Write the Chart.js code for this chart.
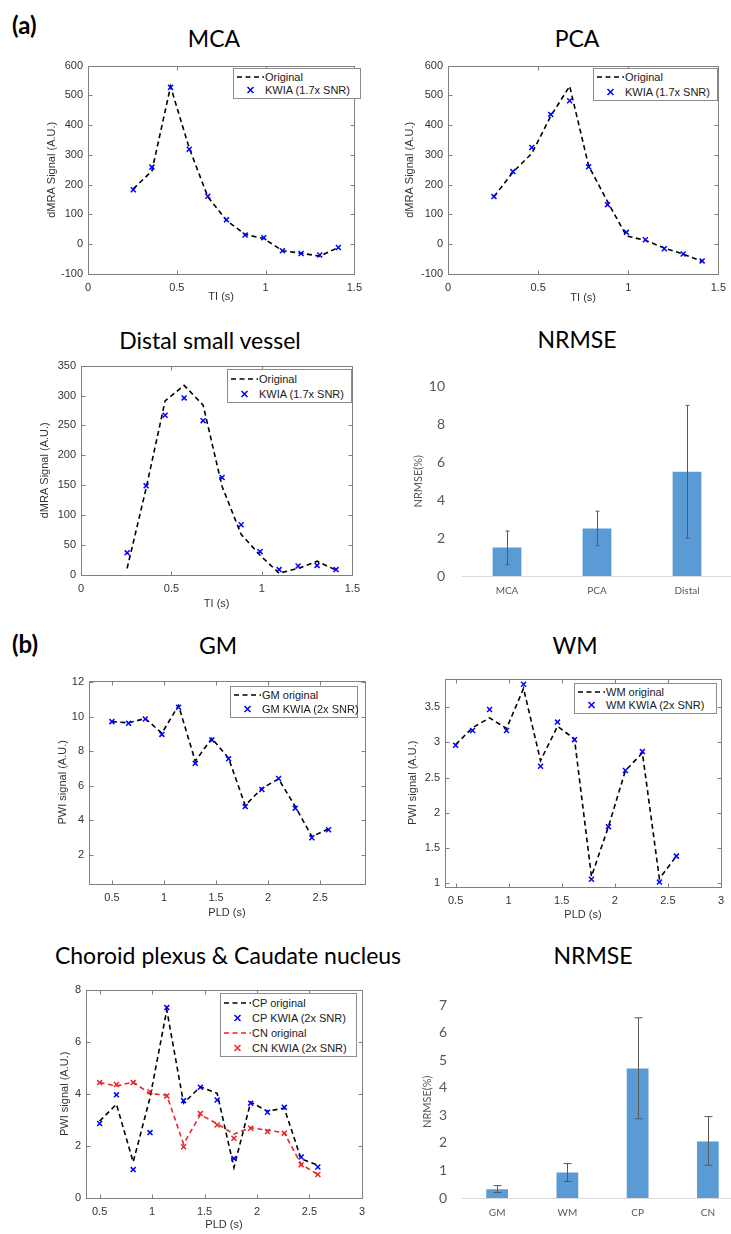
<!DOCTYPE html>
<html>
<head>
<meta charset="utf-8">
<title>KWIA dMRA / PWI comparison</title>
<script src="https://cdn.jsdelivr.net/npm/chart.js@4.4.0/dist/chart.umd.min.js"></script>
<style>
  html, body { margin: 0; padding: 0; background: #fff; }
  #page { position: relative; width: 731px; height: 1234px; overflow: hidden; background: #fff;
          font-family: 'Liberation Sans', Arial, sans-serif; }
  .ptitle { position: absolute; transform: translate(-50%, -50%); white-space: nowrap;
            font-family: Lato, 'Open Sans', sans-serif; font-size: 23px; color: #000; }
  .tag { position: absolute; transform: translateY(-50%); font-family: Lato, sans-serif;
         font-weight: bold; font-size: 24px; color: #000; }
  canvas.abs { position: absolute; }
  .legend { position: absolute; box-sizing: border-box; border: 1px solid #8c8c8c; background: #fff;
            font-size: 11px; color: #1a1a1a; padding: 1px 2px 1px 2px;
            display: flex; flex-direction: column; justify-content: center; }
  .legend .row { display: flex; align-items: center; height: 15px; white-space: nowrap; }
  .legend svg { flex: none; margin-right: 1px; }
</style>
</head>
<body>
<div id="page">
  <div class="tag" style="left:12px;top:24px">(a)</div>
  <div class="tag" style="left:12px;top:643px">(b)</div>

  <div class="ptitle" style="left:214px;top:38px">MCA</div>
  <div class="ptitle" style="left:577px;top:38px">PCA</div>
  <div class="ptitle" style="left:210px;top:340px">Distal small vessel</div>
  <div class="ptitle" style="left:577px;top:339px">NRMSE</div>
  <div class="ptitle" style="left:218px;top:645px">GM</div>
  <div class="ptitle" style="left:575px;top:645px">WM</div>
  <div class="ptitle" style="left:228px;top:955px">Choroid plexus &amp; Caudate nucleus</div>
  <div class="ptitle" style="left:593px;top:955px">NRMSE</div>
</div>

<script>
// ---- data ----
const TI = [0.255, 0.36, 0.465, 0.57, 0.675, 0.78, 0.885, 0.99, 1.095, 1.2, 1.305, 1.41];
const PLD = [0.5, 0.66, 0.82, 0.98, 1.14, 1.30, 1.46, 1.62, 1.78, 1.94, 2.10, 2.26, 2.42, 2.58];

const mcaOrig = [186, 246, 530, 323, 159, 80, 33, 19, -22, -30, -40, -11];
const mcaKwia = [183, 259, 527, 319, 161, 82, 31, 22, -22, -31, -36, -11];

const pcaOrig = [160, 242, 305, 430, 531, 264, 143, 28, 13, -13, -33, -58];
const pcaKwia = [160, 244, 325, 436, 482, 260, 133, 40, 15, -15, -33, -56];

const distOrig = [11, 145, 291, 317, 284, 148, 68, 33, 3, 11, 23, 8];
const distKwia = [37, 149, 267, 296, 258, 163, 84, 39, 9, 15, 16, 9];

const gmOrig = [9.72, 9.65, 9.9, 9.05, 10.66, 7.43, 8.75, 7.6, 4.85, 5.85, 6.4, 4.8, 3.05, 3.5];
const gmKwia = [9.72, 9.62, 9.87, 8.98, 10.55, 7.3, 8.66, 7.56, 4.79, 5.78, 6.42, 4.7, 2.98, 3.45];

const wmOrig = [2.97, 3.21, 3.35, 3.2, 3.77, 2.74, 3.23, 3.05, 1.09, 1.8, 2.6, 2.85, 1.06, 1.38];
const wmKwia = [2.96, 3.17, 3.47, 3.17, 3.83, 2.66, 3.29, 3.04, 1.05, 1.8, 2.6, 2.87, 1.01, 1.38];

const cpOrig = [2.95, 3.6, 1.38, 3.85, 7.22, 3.64, 4.27, 4.02, 1.17, 3.68, 3.33, 3.45, 1.5, 1.26];
const cpKwia = [2.86, 3.96, 1.09, 2.51, 7.31, 3.74, 4.25, 3.76, 1.52, 3.64, 3.29, 3.48, 1.57, 1.19];
const cnOrig = [4.43, 4.3, 4.45, 4.0, 3.95, 2.07, 3.2, 2.85, 2.45, 2.7, 2.6, 2.5, 1.3, 0.9];
const cnKwia = [4.43, 4.36, 4.43, 4.08, 3.92, 1.97, 3.24, 2.8, 2.29, 2.68, 2.55, 2.49, 1.28, 0.9];

const vesselLabels = ['MCA', 'PCA', 'Distal'];
const vesselNrmse = [1.5, 2.5, 5.5];
const vesselErrLo = [0.6, 1.6, 2.0];
const vesselErrHi = [2.37, 3.42, 9.0];

const tissueLabels = ['GM', 'WM', 'CP', 'CN'];
const tissueNrmse = [0.32, 0.93, 4.71, 2.05];
const tissueErrLo = [0.2, 0.6, 2.88, 1.19];
const tissueErrHi = [0.45, 1.25, 6.55, 2.96];

// tick labels
const tiTicks = [0, 0.5, 1, 1.5];
const dmraTicks = [-100, 0, 100, 200, 300, 400, 500, 600];
const distTicks = [0, 50, 100, 150, 200, 250, 300, 350];
const gmXTicks = [0.5, 1, 1.5, 2, 2.5];
const gmYTicks = [2, 4, 6, 8, 10, 12];
const pldTicks = [0.5, 1, 1.5, 2, 2.5, 3];
const wmYTicks = [1, 1.5, 2, 2.5, 3, 3.5];
const cpYTicks = [0, 2, 4, 6, 8];
const vesselYTicks = [0, 2, 4, 6, 8, 10];
const tissueYTicks = [0, 1, 2, 3, 4, 5, 6, 7];

// ---- styling ----
const MAT_FONT = "'Liberation Sans', Arial, sans-serif";
const XL_FONT = "Lato, 'Open Sans', sans-serif";
const AXIS_COLOR = '#808080';
const LABEL_COLOR = '#333333';
const BAR_BLUE = '#5b9bd5';
const KWIA_BLUE = '#0000ff';
const CN_RED = '#e8262b';

const page = document.getElementById('page');

function mkCanvas(left, top, width, height) {
    const c = document.createElement('canvas');
    c.className = 'abs';
    c.width = width;
    c.height = height;
    c.style.left = left + 'px';
    c.style.top = top + 'px';
    c.style.width = width + 'px';
    c.style.height = height + 'px';
    page.appendChild(c);
    return c.getContext('2d');
}

// box around the axes with inward ticks on all four sides (matlab look)
const matlabBox = {
    id: 'matlabBox',
    afterDraw(chart) {
        const {ctx, chartArea: a, scales} = chart;
        const L = Math.round(a.left) + 0.5, R = Math.round(a.right) + 0.5;
        const T = Math.round(a.top) + 0.5, B = Math.round(a.bottom) + 0.5;
        ctx.save();
        ctx.strokeStyle = AXIS_COLOR;
        ctx.lineWidth = 1;
        ctx.strokeRect(L, T, R - L, B - T);
        ctx.beginPath();
        scales.x.ticks.forEach(t => {
            const px = Math.round(scales.x.getPixelForValue(t.value)) + 0.5;
            ctx.moveTo(px, B); ctx.lineTo(px, B - 4);
            ctx.moveTo(px, T); ctx.lineTo(px, T + 4);
        });
        scales.y.ticks.forEach(t => {
            const py = Math.round(scales.y.getPixelForValue(t.value)) + 0.5;
            ctx.moveTo(L, py); ctx.lineTo(L + 4, py);
            ctx.moveTo(R, py); ctx.lineTo(R - 4, py);
        });
        ctx.stroke();
        ctx.restore();
    }
};

// vertical error bars with caps, from the plugin options
const errorBars = {
    id: 'errorBars',
    afterDatasetsDraw(chart, args, opts) {
        const {ctx, scales} = chart;
        const meta = chart.getDatasetMeta(0);
        ctx.save();
        ctx.strokeStyle = '#595959';
        ctx.lineWidth = 1;
        meta.data.forEach((bar, i) => {
            const x = Math.round(bar.x) + 0.5;
            const yHi = scales.y.getPixelForValue(opts.hi[i]);
            const yLo = scales.y.getPixelForValue(opts.lo[i]);
            ctx.beginPath();
            ctx.moveTo(x, yHi); ctx.lineTo(x, yLo);
            ctx.moveTo(x - opts.cap, yHi); ctx.lineTo(x + opts.cap, yHi);
            ctx.moveTo(x - opts.cap, yLo); ctx.lineTo(x + opts.cap, yLo);
            ctx.stroke();
        });
        ctx.restore();
    }
};

const pts = (xs, ys) => xs.map((x, i) => ({x: x, y: ys[i]}));

function origLine(xs, ys, color) {
    return {data: pts(xs, ys), borderColor: color, borderWidth: 1.6, borderDash: [5, 3.5],
            pointRadius: 0, fill: false, tension: 0, order: 2};
}
function kwiaMarks(xs, ys, color) {
    return {data: pts(xs, ys), showLine: false, pointStyle: 'crossRot', pointRadius: 3.5,
            borderColor: color, backgroundColor: color, pointBorderWidth: 1.5, order: 1};
}

function linePanel(o) {
    const [pl, pt, pr, pb] = o.plot;
    const cl = o.yTitleX - 7, ct = pt - 8, cr = pr + 8, cb = o.xTitleY + 7;
    const ctx = mkCanvas(cl, ct, cr - cl, cb - ct);
    const font = {family: MAT_FONT, size: 11};
    new Chart(ctx, {
        type: 'line',
        data: {datasets: o.datasets},
        options: {
            responsive: false,
            animation: false,
            layout: {padding: {top: pt - ct, right: cr - pr, left: 0, bottom: 0}},
            plugins: {legend: {display: false}, tooltip: {enabled: false}},
            scales: {
                x: {
                    type: 'linear', min: o.xMin, max: o.xMax,
                    afterBuildTicks: s => { s.ticks = o.xTicks.map(v => ({value: v})); },
                    afterFit: s => { s.height = cb - pb; },
                    grid: {display: false, drawTicks: false},
                    border: {display: false},
                    ticks: {padding: 7, color: LABEL_COLOR, font: font, callback: v => String(v)},
                    title: {display: true, text: o.xTitle, padding: 0, color: LABEL_COLOR, font: font}
                },
                y: {
                    type: 'linear', min: o.yMin, max: o.yMax,
                    afterBuildTicks: s => { s.ticks = o.yTicks.map(v => ({value: v})); },
                    afterFit: s => { s.width = pl - cl; },
                    grid: {display: false, drawTicks: false},
                    border: {display: false},
                    ticks: {padding: 5, color: LABEL_COLOR, font: font, callback: v => String(v)},
                    title: {display: true, text: o.yTitle, padding: 0, color: LABEL_COLOR, font: font}
                }
            }
        },
        plugins: [matlabBox]
    });
}

function barPanel(o) {
    const [pl, pt, pr, pb] = o.plot;
    const cl = o.yTitleX - 6, ct = pt - 10, cr = pr + 8, cb = pb + 26;
    const ctx = mkCanvas(cl, ct, cr - cl, cb - ct);
    new Chart(ctx, {
        type: 'bar',
        data: {
            labels: o.labels,
            datasets: [{data: o.values, backgroundColor: BAR_BLUE, borderWidth: 0,
                        barPercentage: o.barPct, categoryPercentage: 1}]
        },
        options: {
            responsive: false,
            animation: false,
            layout: {padding: {top: pt - ct, right: cr - pr, left: 0, bottom: 0}},
            plugins: {legend: {display: false}, tooltip: {enabled: false},
                      errorBars: {lo: o.lo, hi: o.hi, cap: o.cap}},
            scales: {
                x: {
                    afterFit: s => { s.height = cb - pb; },
                    grid: {display: false, drawTicks: false},
                    border: {display: true, color: '#d9d9d9', width: 1},
                    ticks: {padding: 9, color: '#595959', font: {family: XL_FONT, size: 10}}
                },
                y: {
                    min: 0, max: o.yMax,
                    afterBuildTicks: s => { s.ticks = o.yTicks.map(v => ({value: v})); },
                    afterFit: s => { s.width = pl - cl; },
                    grid: {display: false, drawTicks: false},
                    border: {display: false},
                    ticks: {padding: o.tickPad, color: '#595959', font: {family: XL_FONT, size: 14},
                            callback: v => String(v)},
                    title: {display: true, text: 'NRMSE(%)', padding: 0, color: '#595959',
                            font: {family: XL_FONT, size: 11}}
                }
            }
        },
        plugins: [errorBars]
    });
}

// matlab style legend, drawn as html on top of the axes
function legendBox(left, top, width, height, rows) {
    const d = document.createElement('div');
    d.className = 'legend';
    d.style.left = left + 'px';
    d.style.top = top + 'px';
    d.style.width = width + 'px';
    d.style.height = height + 'px';
    rows.forEach(r => {
        const sample = r.kind === 'line'
            ? `<svg width="28" height="8"><line x1="1" y1="4" x2="28" y2="4" stroke="${r.color}" stroke-width="1.6" stroke-dasharray="5 3.5"/></svg>`
            : `<svg width="28" height="8"><path d="M11.5 1 L17.5 7 M17.5 1 L11.5 7" stroke="${r.color}" stroke-width="1.5"/></svg>`;
        d.insertAdjacentHTML('beforeend', `<div class="row">${sample}<span>${r.text}</span></div>`);
    });
    page.appendChild(d);
}

// ---- (a) dMRA ----
linePanel({plot: [88, 62, 361, 274], yTitleX: 52, xTitleY: 297,
    xMin: 0, xMax: 1.5, xTicks: tiTicks, yMin: -100, yMax: 600, yTicks: dmraTicks,
    xTitle: 'TI (s)', yTitle: 'dMRA Signal (A.U.)',
    datasets: [origLine(TI, mcaOrig, '#000'), kwiaMarks(TI, mcaKwia, KWIA_BLUE)]});
legendBox(233, 68, 128, 31, [
    {kind: 'line', color: '#000', text: 'Original'},
    {kind: 'mark', color: KWIA_BLUE, text: 'KWIA (1.7x SNR)'}]);

linePanel({plot: [448, 62, 725, 274], yTitleX: 410, xTitleY: 298,
    xMin: 0, xMax: 1.5, xTicks: tiTicks, yMin: -100, yMax: 600, yTicks: dmraTicks,
    xTitle: 'TI (s)', yTitle: 'dMRA Signal (A.U.)',
    datasets: [origLine(TI, pcaOrig, '#000'), kwiaMarks(TI, pcaKwia, KWIA_BLUE)]});
legendBox(593, 68, 125, 33, [
    {kind: 'line', color: '#000', text: 'Original'},
    {kind: 'mark', color: KWIA_BLUE, text: 'KWIA (1.7x SNR)'}]);

linePanel({plot: [81, 362, 359, 575], yTitleX: 45, xTitleY: 604,
    xMin: 0, xMax: 1.5, xTicks: tiTicks, yMin: 0, yMax: 350, yTicks: distTicks,
    xTitle: 'TI (s)', yTitle: 'dMRA Signal (A.U.)',
    datasets: [origLine(TI, distOrig, '#000'), kwiaMarks(TI, distKwia, KWIA_BLUE)]});
legendBox(227, 369, 125, 34, [
    {kind: 'line', color: '#000', text: 'Original'},
    {kind: 'mark', color: KWIA_BLUE, text: 'KWIA (1.7x SNR)'}]);

barPanel({plot: [462, 371, 732, 576], yTitleX: 418, labels: vesselLabels, values: vesselNrmse,
    lo: vesselErrLo, hi: vesselErrHi, yMax: 10, yTicks: vesselYTicks, tickPad: 17, barPct: 0.32, cap: 2});

// ---- (b) PWI ----
linePanel({plot: [89, 677, 365, 884], yTitleX: 63, xTitleY: 913,
    xMin: 0.28, xMax: 2.93, xTicks: gmXTicks, yMin: 0.3, yMax: 12.1, yTicks: gmYTicks,
    xTitle: 'PLD (s)', yTitle: 'PWI signal (A.U.)',
    datasets: [origLine(PLD, gmOrig, '#000'), kwiaMarks(PLD, gmKwia, KWIA_BLUE)]});
legendBox(230, 686, 128, 32, [
    {kind: 'line', color: '#000', text: 'GM original'},
    {kind: 'mark', color: KWIA_BLUE, text: 'GM KWIA (2x SNR)'}]);

linePanel({plot: [445, 675, 723, 887], yTitleX: 413, xTitleY: 915,
    xMin: 0.4, xMax: 3, xTicks: pldTicks, yMin: 0.94, yMax: 3.91, yTicks: wmYTicks,
    xTitle: 'PLD (s)', yTitle: 'PWI signal (A.U.)',
    datasets: [origLine(PLD, wmOrig, '#000'), kwiaMarks(PLD, wmKwia, KWIA_BLUE)]});
legendBox(574, 683, 143, 31, [
    {kind: 'line', color: '#000', text: 'WM original'},
    {kind: 'mark', color: KWIA_BLUE, text: 'WM KWIA (2x SNR)'}]);

linePanel({plot: [86, 986, 364, 1198], yTitleX: 65, xTitleY: 1225,
    xMin: 0.37, xMax: 3, xTicks: pldTicks, yMin: 0, yMax: 8, yTicks: cpYTicks,
    xTitle: 'PLD (s)', yTitle: 'PWI signal (A.U.)',
    datasets: [origLine(PLD, cpOrig, '#000'), kwiaMarks(PLD, cpKwia, KWIA_BLUE),
               origLine(PLD, cnOrig, CN_RED), kwiaMarks(PLD, cnKwia, CN_RED)]});
legendBox(220, 993, 137, 64, [
    {kind: 'line', color: '#000', text: 'CP original'},
    {kind: 'mark', color: KWIA_BLUE, text: 'CP KWIA (2x SNR)'},
    {kind: 'line', color: CN_RED, text: 'CN original'},
    {kind: 'mark', color: CN_RED, text: 'CN KWIA (2x SNR)'}]);

barPanel({plot: [462, 992, 743, 1198], yTitleX: 427, labels: tissueLabels, values: tissueNrmse,
    lo: tissueErrLo, hi: tissueErrHi, yMax: 7, yTicks: tissueYTicks, tickPad: 15, barPct: 0.31, cap: 4});
</script>
</body>
</html>
